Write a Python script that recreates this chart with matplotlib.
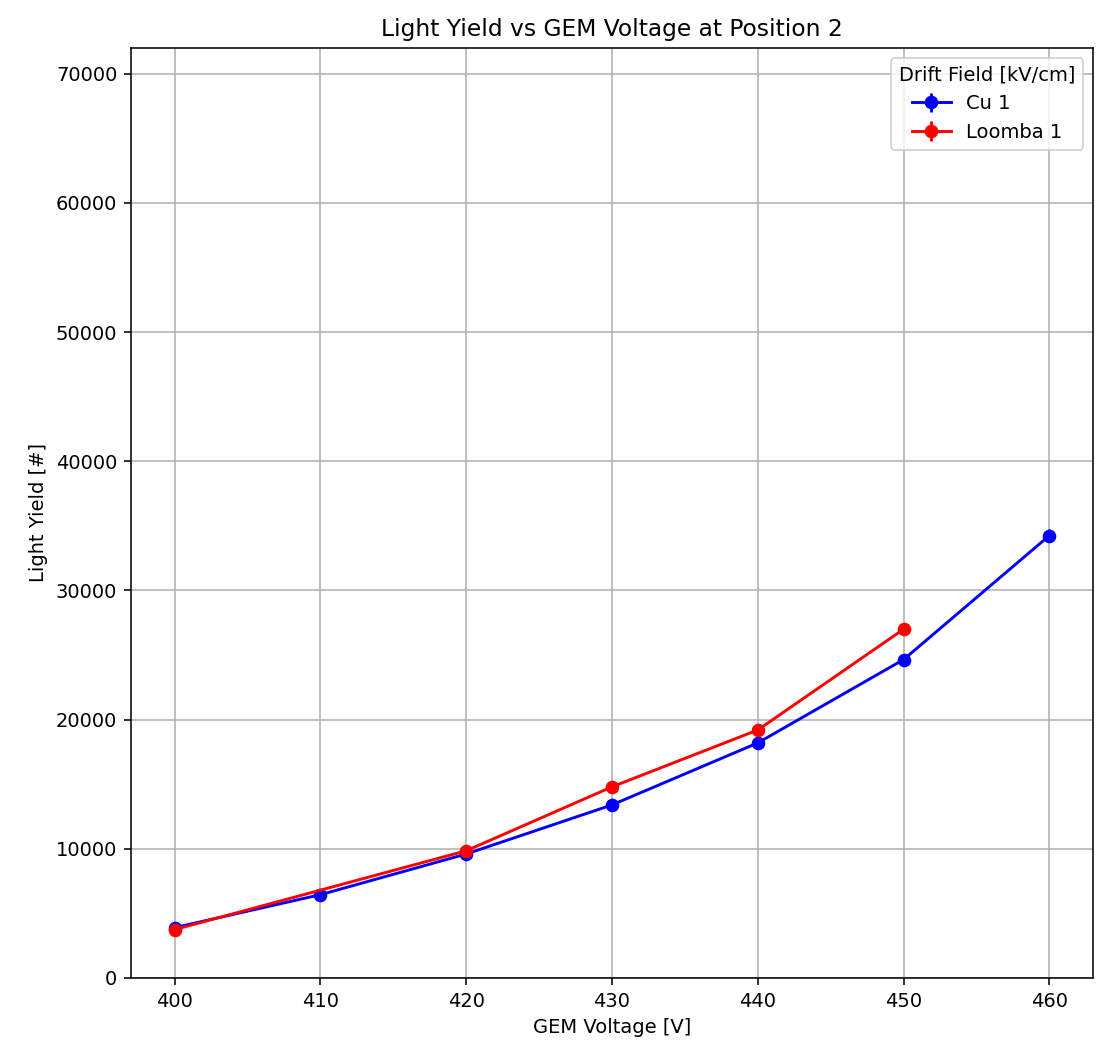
import matplotlib
matplotlib.use("Agg")
import matplotlib.pyplot as plt

# GEM voltage scan at position 2
volt_cu = [400, 410, 420, 430, 440, 450, 460]
ly_cu = [3900, 6450, 9600, 13400, 18200, 24650, 34250]
err_cu = [150, 200, 250, 300, 350, 400, 500]

volt_lo = [400, 420, 430, 440, 450]   # no Loomba point at 410 V
ly_lo = [3750, 9850, 14800, 19200, 27000]
err_lo = [150, 250, 300, 350, 400]

labels = ["Cu 1", "Loomba 1"]

fig = plt.figure(figsize=(1107 / 140, 1059 / 140), dpi=140)
ax = fig.add_axes([0.1183, 0.0765, 0.8691, 0.8782])

ax.errorbar(volt_cu, ly_cu, yerr=err_cu, fmt="-o", color="blue", label=labels[0])
ax.errorbar(volt_lo, ly_lo, yerr=err_lo, fmt="-o", color="red", label=labels[1])

ax.set_ylim(0, 72000)
ax.set_xlabel("GEM Voltage [V]")
ax.set_ylabel("Light Yield [#]")
ax.set_title("Light Yield vs GEM Voltage at Position 2")
ax.grid(True)
ax.legend(title="Drift Field [kV/cm]", loc="upper right")

fig.savefig("out.png", dpi=140)
